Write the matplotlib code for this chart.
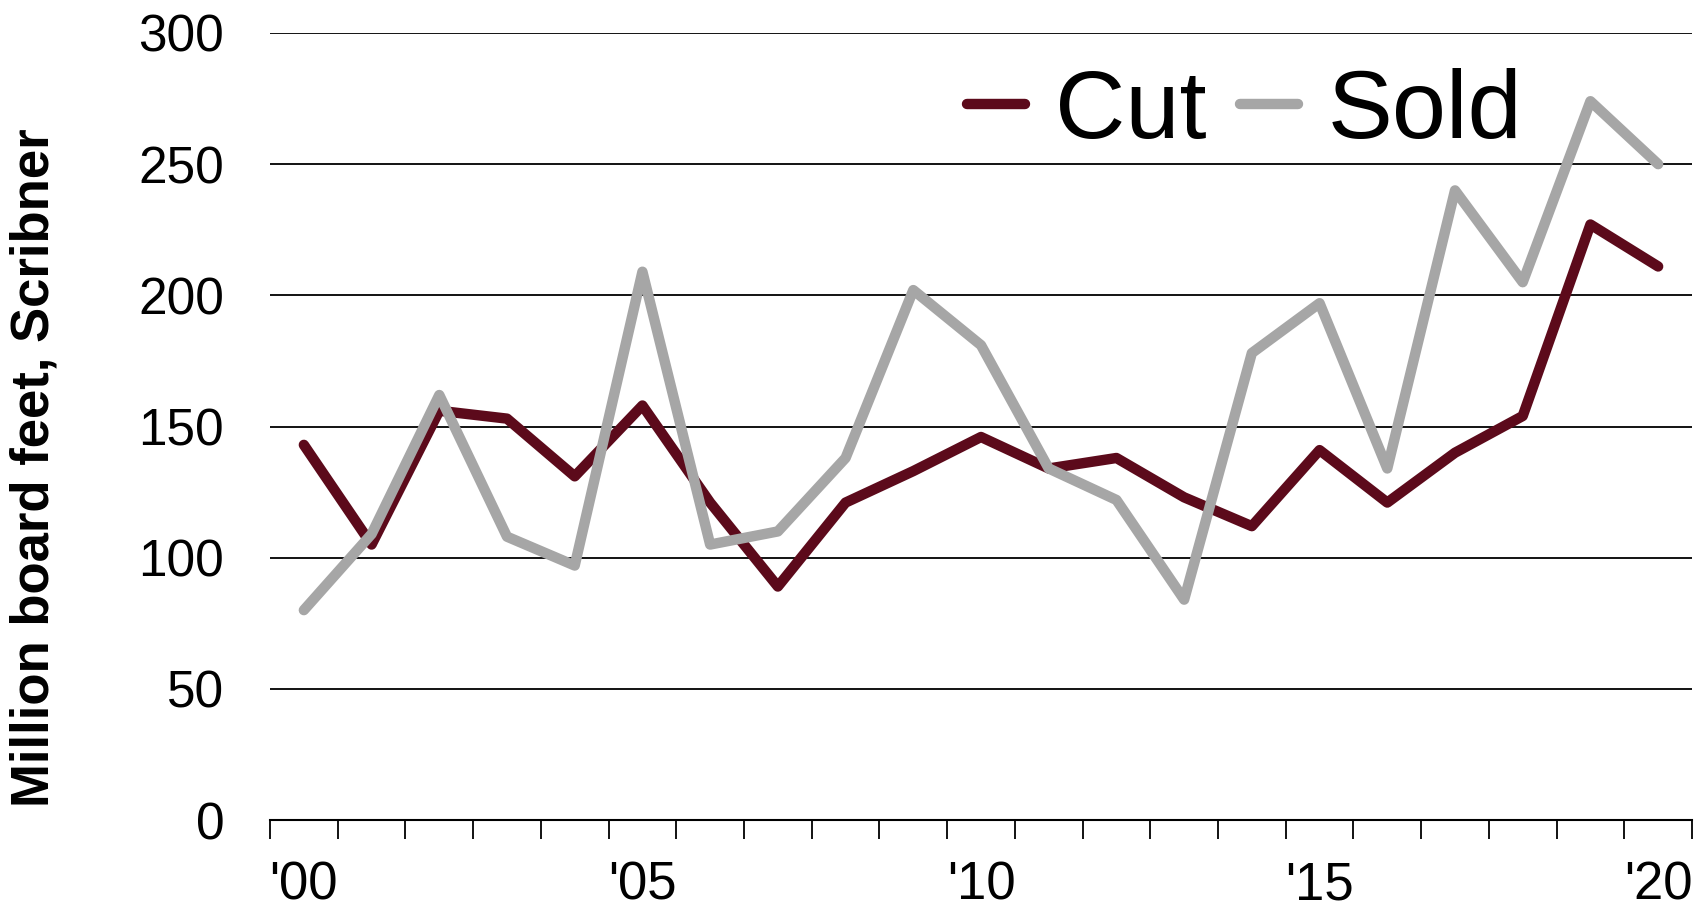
import matplotlib
matplotlib.use("Agg")
import matplotlib.pyplot as plt
import numpy as np

years = list(range(2000, 2021))
cut = [143, 105, 156, 153, 131, 158, 121, 89, 121, 133, 146, 134, 138, 123, 112, 141, 121, 140, 154, 227, 211]
sold = [80, 109, 162, 108, 97, 209, 105, 110, 138, 202, 181, 134, 122, 84, 178, 197, 134, 240, 205, 274, 250]
tick_years = [2000, 2005, 2010, 2015, 2020]
tick_text = ["'00", "'05", "'10", "'15", "'20"]

plt.rcParams['font.family'] = ['Liberation Sans', 'DejaVu Sans']

fig = plt.figure(figsize=(17.08, 9.07), dpi=100)
ax = fig.add_axes([270 / 1708, 1 - 820 / 907, (1692 - 270) / 1708, (820 - 33) / 907])

x = np.arange(len(years))
ax.plot(x, cut, color='#5c0a1b', lw=7.5, solid_capstyle='round', solid_joinstyle='round', label='Cut', zorder=3)
ax.plot(x, sold, color='#a6a6a6', lw=7.5, solid_capstyle='round', solid_joinstyle='round', label='Sold', zorder=4)

ax.set_xlim(-0.5, len(years) - 0.5)
ax.set_ylim(0, 300)
ax.set_yticks(np.arange(0, 301, 50))
ax.grid(axis='y', color='black', lw=1.3)
ax.set_axisbelow(True)
for s in ['left', 'top', 'right']:
    ax.spines[s].set_visible(False)
ax.spines['bottom'].set_linewidth(1.5)
ax.spines['bottom'].set_zorder(5)

# category edges get the tick marks, labels sit at every fifth year
ax.set_xticks(np.arange(-0.5, len(years), 1.0))
ax.set_xticklabels([])
ax.tick_params(axis='x', which='major', length=14, width=1.3, color='black')
ax.set_xticks([years.index(y) for y in tick_years], minor=True)
ax.set_xticklabels(tick_text, minor=True)
ax.tick_params(axis='x', which='minor', length=0, pad=29, labelsize=38)
ax.tick_params(axis='y', length=0, pad=33, labelsize=37)

fig.text(35 / 1708, 1 - 468 / 907, 'Million board feet, Scribner', rotation=90,
         ha='center', va='center', fontsize=38, fontweight='bold',
         family=['Liberation Sans Narrow', 'Liberation Sans', 'DejaVu Sans'])

ax.legend(loc='upper right', bbox_to_anchor=(0.908, 1.005), ncol=2, frameon=False,
          fontsize=70, handlelength=0.6, handletextpad=0.3, columnspacing=0.35,
          borderaxespad=0)

fig.savefig('out.png', dpi=100)
